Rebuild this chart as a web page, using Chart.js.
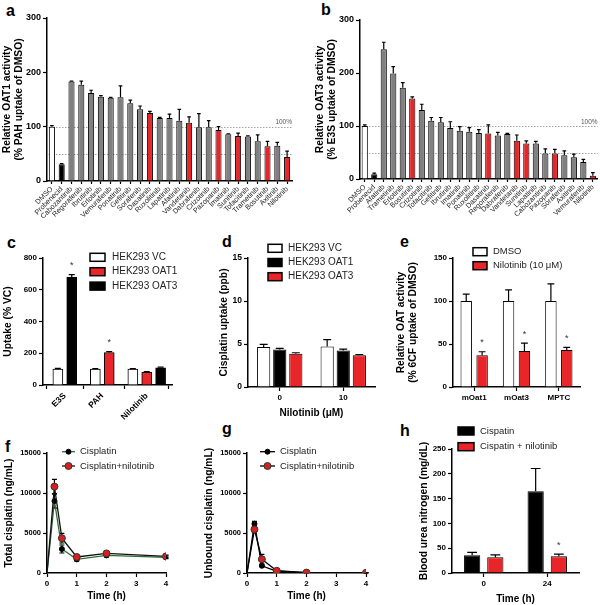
<!DOCTYPE html>
<html><head><meta charset="utf-8">
<script src="https://cdn.jsdelivr.net/npm/chart.js@4/dist/chart.umd.min.js"></script>
<style>
html,body{margin:0;padding:0;background:#fff;}
#wrap{position:relative;width:600px;height:605px;overflow:hidden;font-family:"Liberation Sans",Arial,sans-serif;background:#fff;}
#wrap canvas{position:absolute;}
.pl{position:absolute;font-weight:bold;font-size:16px;line-height:16px;color:#000;}
</style></head><body><div id="wrap">
<div class="pl" style="left:6px;top:3px">a</div>
<div class="pl" style="left:321px;top:2px">b</div>
<div class="pl" style="left:7px;top:235px">c</div>
<div class="pl" style="left:222px;top:234px">d</div>
<div class="pl" style="left:400px;top:234px">e</div>
<div class="pl" style="left:5px;top:439px">f</div>
<div class="pl" style="left:222px;top:421px">g</div>
<div class="pl" style="left:400px;top:423px">h</div>
</div>
<script>
// ---------------- DATA ----------------
const aLabels = ['DMSO','Probenecid','Cabozantinib','Regorafenib','Ibrutinib','Erlotinib','Vemurafenib','Ponatinib','Gefitinib','Sorafenib','Dasatinib','Ruxolitinib','Lapatinib','Afatinib','Vandetanib','Dabrafenib','Crizotinib','Pazopanib','Imatinib','Sunitinib','Tofacitinib','Trametinib','Bosutinib','Axitinib','Nilotinib'];
const aValues = [100,31,183,177,162,155,153,154,143,132,125,116,116,111,107,99,99,94,86,83,82,73,64,65,44];
const aErrors = [2,1,1,7,5,2,1,21,6,6,3,1,7,21,11,25,12,6,1,5,1,12,9,6,11];

const bLabels = ['DMSO','Probenecid','Afatinib','Trametinib','Erlotinib','Bosutinib','Crizotinib','Tofacitinib','Gefitinib','Ibrutinib','Imatinib','Ponatinib','Ruxolitinib','Dasatinib','Regorafenib','Dabrafenib','Vandetanib','Sunitinib','Lapatinib','Cabozantinib','Pazopanib','Sorafenib','Axitinib','Vemurafenib','Nilotinib'];
const bValues = [100,9,245,199,172,152,130,110,107,96,91,89,87,86,82,85,72,67,67,48,48,45,41,32,6];
const bErrors = [2,2,13,13,10,3,11,6,9,12,8,8,6,16,6,1,11,5,4,9,8,8,6,5,6];

const highlightedDrugs = ['Dasatinib','Vandetanib','Pazopanib','Sunitinib','Bosutinib','Nilotinib'];

const cGroups = ['E3S','PAH','Nilotinib'];
const cVC = [100,100,100];
const cVCErr = [5,3,3];
const cOAT1 = [null,205,80];
const cOAT1Err = [null,5,4];
const cOAT3 = [680,null,108];
const cOAT3Err = [15,null,4];
const cOAT1Sig = [false,true,false];
const cOAT3Sig = [true,false,false];

const dGroups = ['0','10'];
const dVC = [4.65,4.7];
const dVCErr = [0.3,0.8];
const dOAT1 = [4.35,4.25];
const dOAT1Err = [0.15,0.15];
const dOAT3 = [3.88,3.68];
const dOAT3Err = [0.1,0.1];

const eGroups = ['mOat1','mOat3','MPTC'];
const eDMSO = [100,100,100];
const eDMSOErr = [8,13,20];
const eNil = [37,42,43];
const eNilErr = [4,9,3];
const eNilSig = [true,true,true];

const fTime = [0,0.25,0.5,1,2,4];
const fCis = [0,9000,3000,1700,2200,1950];
const fCisErr = [0,900,500,200,200,150];
const fCisNil = [0,10800,4350,2000,2450,2080];
const fCisNilErr = [0,900,600,200,200,150];

const gTime = [0,0.25,0.5,1,2,4];
const gCis = [0,6150,900,220,50,30];
const gCisErr = [0,300,100,50,10,10];
const gCisNil = [0,5450,1720,280,50,30];
const gCisNilErr = [0,400,600,50,10,10];

const hGroups = ['0','24'];
const hCis = [35.6,164.7];
const hCisErr = [6,46];
const hCisNil = [31.6,34];
const hCisNilErr = [5,4];
const hCisNilSig = [false,true];

// ---------------- STYLE / PLUGINS ----------------
const FONT = "'Liberation Sans', Arial, Helvetica, sans-serif";
const BLACK = '#000', RED = '#e8262a', GREY = '#808080', WHITE = '#ffffff';
const TITLE_SIZE = 10.3;
Chart.defaults.font.family = FONT;
Chart.defaults.color = BLACK;
Chart.defaults.animation = false;
Chart.defaults.plugins.legend.display = false;
Chart.defaults.plugins.tooltip.enabled = false;

function valOf(raw){ return (raw && typeof raw === 'object') ? raw.y : raw; }

function drawErr(chart, behind){
  const ctx = chart.ctx;
  chart.data.datasets.forEach((ds,i)=>{
    if(!ds.errors || !!ds.errBoth !== behind) return;
    const meta = chart.getDatasetMeta(i);
    const ys = chart.scales[meta.yAxisID];
    ctx.save();
    ctx.strokeStyle = ds.errColor || BLACK;
    ctx.lineWidth = ds.errWidth || 1.2;
    meta.data.forEach((el,j)=>{
      const v = valOf(ds.data[j]); const e = ds.errors[j];
      if(v==null || !e) return;
      const x = el.x;
      const yT = ys.getPixelForValue(v+e);
      const y0 = ys.getPixelForValue(v);
      const half = ds.errCap != null ? ds.errCap : (el.width ? el.width*0.3 : 2.5);
      ctx.beginPath();
      if(ds.errBoth){
        const yB = ys.getPixelForValue(v-e);
        ctx.moveTo(x,yB); ctx.lineTo(x,yT);
        ctx.moveTo(x-half,yB); ctx.lineTo(x+half,yB);
      } else {
        ctx.moveTo(x,y0); ctx.lineTo(x,yT);
      }
      ctx.moveTo(x-half,yT); ctx.lineTo(x+half,yT);
      ctx.stroke();
      if(ds.stars && ds.stars[j]){
        ctx.fillStyle = '#333';
        ctx.font = '9px ' + FONT;
        ctx.textAlign = 'center'; ctx.textBaseline = 'middle';
        ctx.fillText('*', x, yT - 9);
      }
    });
    ctx.restore();
  });
}
const errPlugin = {
  id:'errbars',
  beforeDatasetsDraw(chart){ drawErr(chart, true); },
  afterDatasetsDraw(chart){ drawErr(chart, false); }
};

const refPlugin = {
  id:'refLines',
  beforeDatasetsDraw(chart, args, o){
    if(!o || !o.values) return;
    const ctx = chart.ctx, ys = chart.scales.y, ca = chart.chartArea;
    ctx.save();
    ctx.strokeStyle = '#8a8a8a'; ctx.lineWidth = 0.8; ctx.setLineDash([1.5,1.5]);
    o.values.forEach(v=>{
      const y = Math.round(ys.getPixelForValue(v)) + 0.5;
      ctx.beginPath(); ctx.moveTo(ca.left, y); ctx.lineTo(ca.right, y); ctx.stroke();
    });
    ctx.setLineDash([]);
    if(o.text){
      ctx.fillStyle = '#555'; ctx.font = '6.5px ' + FONT;
      ctx.textAlign = 'right'; ctx.textBaseline = 'alphabetic';
      ctx.fillText(o.text, ca.right, ys.getPixelForValue(o.values[0]) - 2.5);
    }
    ctx.restore();
  }
};

const legendPlugin = {
  id:'boxLegend',
  afterDraw(chart, args, o){
    if(!o || o.x == null) return;
    const ctx = chart.ctx;
    ctx.save();
    chart.data.datasets.forEach((ds,i)=>{
      const cy = o.y + i*o.dy;
      if(o.kind === 'line'){
        ctx.strokeStyle = ds.borderColor; ctx.lineWidth = ds.borderWidth || 1.5;
        ctx.beginPath(); ctx.moveTo(o.x, cy); ctx.lineTo(o.x+o.boxW, cy); ctx.stroke();
        ctx.beginPath(); ctx.arc(o.x+o.boxW/2, cy, ds.legendRadius, 0, Math.PI*2);
        ctx.fillStyle = ds.legendFill; ctx.fill();
        ctx.lineWidth = 1; ctx.strokeStyle = ds.legendStroke; ctx.stroke();
      } else {
        ctx.fillStyle = ds.legendColor;
        ctx.fillRect(o.x, cy-o.boxH/2, o.boxW, o.boxH);
        ctx.lineWidth = 1.5; ctx.strokeStyle = BLACK;
        ctx.strokeRect(o.x, cy-o.boxH/2, o.boxW, o.boxH);
      }
      ctx.fillStyle = '#222'; ctx.font = o.size + 'px ' + FONT;
      ctx.textAlign = 'left'; ctx.textBaseline = 'middle';
      ctx.fillText(ds.label, o.textX, cy);
    });
    ctx.restore();
  }
};
Chart.register(errPlugin, refPlugin, legendPlugin);

const wrap = document.getElementById('wrap');
function mk(left, top, w, h){
  const c = document.createElement('canvas');
  c.width = w; c.height = h;
  c.style.left = left+'px'; c.style.top = top+'px';
  c.style.width = w+'px'; c.style.height = h+'px';
  wrap.appendChild(c); return c;
}

function yAx(o){ return {
  type:'linear', position:'left', min:o.min, max:o.max,
  ticks:{stepSize:o.step, font:{size:o.ts||8, weight:'bold'}, color:BLACK, padding:2, callback:(v)=>String(v)},
  grid:{display:true, drawOnChartArea:false, drawTicks:true, tickLength:4, tickWidth:1.2, color:BLACK},
  border:{display:true, color:BLACK, width:1.5},
  title:{display:true, text:o.title, color:BLACK, font:{size:TITLE_SIZE, weight:'bold', lineHeight:'12px'}, padding:{top:o.tp, bottom:0}},
  afterFit:(s)=>{ s.width = o.w; }
};}

function xCat(o){ return {
  type:'category', offset:true,
  ticks:{font:{size:o.ts||8, weight:o.tw||'bold'}, color:o.tc||BLACK, padding:(o.tpad!=null?o.tpad:2), autoSkip:false, minRotation:o.rot||0, maxRotation:o.rot||0},
  grid:{display:true, drawOnChartArea:false, drawTicks:true, tickLength:o.tl||4, tickWidth:1.2, offset:false, color:BLACK},
  border:{display:true, color:BLACK, width:1.5},
  title: o.title ? {display:true, text:o.title, color:BLACK, font:{size:10, weight:'bold', lineHeight:'11px'}, padding:{top:0, bottom:o.tb}} : {display:false},
  afterFit:(s)=>{ s.height = o.h; }
};}

function xLin(o){ return {
  type:'linear', min:o.min, max:o.max, offset:false,
  ticks:{stepSize:1, font:{size:8, weight:'bold'}, color:BLACK, padding:2, callback:(v)=>String(v)},
  grid:{display:true, drawOnChartArea:false, drawTicks:true, tickLength:4, tickWidth:1.2, color:BLACK},
  border:{display:true, color:BLACK, width:1.5},
  title:{display:true, text:o.title, color:BLACK, font:{size:10, weight:'bold', lineHeight:'11px'}, padding:{top:0, bottom:o.tb}},
  afterFit:(s)=>{ s.height = o.h; }
};}

function drugColor(n){
  if(n==='DMSO') return WHITE;
  if(n==='Probenecid') return BLACK;
  return highlightedDrugs.includes(n) ? RED : GREY;
}
const base = {responsive:false, maintainAspectRatio:false, devicePixelRatio:1};

// ---------------- a ----------------
new Chart(mk(0,0,300,230), {type:'bar',
  data:{labels:aLabels, datasets:[{data:aValues, errors:aErrors, backgroundColor:aLabels.map(drugColor), borderColor:BLACK, borderWidth:1, barPercentage:0.62, categoryPercentage:1}]},
  options:{...base, layout:{padding:{top:18,right:8,left:0,bottom:0}},
    scales:{x:xCat({h:49, ts:7.2, tw:'normal', tc:'#222', rot:45, tl:3, tpad:1}),
            y:yAx({min:0,max:300,step:100,title:['Relative OAT1 activity','(% PAH uptake of DMSO)'], w:47, tp:1, ts:9})},
    plugins:{refLines:{values:[100,50], text:'100%'}}}});

// ---------------- b ----------------
new Chart(mk(300,0,300,230), {type:'bar',
  data:{labels:bLabels, datasets:[{data:bValues, errors:bErrors, backgroundColor:bLabels.map(drugColor), borderColor:BLACK, borderWidth:1, barPercentage:0.65, categoryPercentage:1}]},
  options:{...base, layout:{padding:{top:20,right:2,left:0,bottom:0}},
    scales:{x:xCat({h:51, ts:7.2, tw:'normal', tc:'#222', rot:45, tl:3, tpad:1}),
            y:yAx({min:0,max:300,step:100,title:['Relative OAT3 activity','(% E3S uptake of DMSO)'], w:60, tp:14.5, ts:9})},
    plugins:{refLines:{values:[100,50], text:'100%'}}}});

// ---------------- c ----------------
const cSeries = [
  {label:'HEK293 VC', vals:cVC, err:cVCErr, sig:[false,false,false], color:WHITE},
  {label:'HEK293 OAT1', vals:cOAT1, err:cOAT1Err, sig:cOAT1Sig, color:RED},
  {label:'HEK293 OAT3', vals:cOAT3, err:cOAT3Err, sig:cOAT3Sig, color:BLACK}
];
const cGap = 0.7;
const cSlot = cGroups.map(()=>[]);
const cTickX = [];
let cp = 0;
cGroups.forEach((g,gi)=>{
  const start = cp;
  cSeries.forEach((s,si)=>{ if(s.vals[gi]!=null){ cSlot[gi][si] = cp; cp += 1; } });
  cTickX.push((start + cp - 1)/2);
  cp += cGap;
});
const cDatasets = cSeries.map((s,si)=>{
  const pts = [], errs = [], stars = [];
  cGroups.forEach((g,gi)=>{ if(s.vals[gi]!=null){ pts.push({x:cSlot[gi][si], y:s.vals[gi]}); errs.push(s.err[gi]); stars.push(s.sig[gi]); } });
  return {label:s.label, data:pts, errors:errs, stars:stars, backgroundColor:s.color, legendColor:s.color, borderColor:BLACK, borderWidth:1, barThickness:10, grouped:false, errCap:3};
});
new Chart(mk(0,230,200,190), {type:'bar',
  data:{datasets:cDatasets},
  options:{...base, layout:{padding:{top:28,right:28,left:0,bottom:0}},
    scales:{
      x:{type:'linear', min:-1.07, max:cp - cGap - 1 + 0.82, offset:false,
         afterBuildTicks:(s)=>{ s.ticks = cTickX.map(v=>({value:v})); },
         ticks:{callback:(v,i)=>cGroups[i], autoSkip:false, minRotation:45, maxRotation:45, font:{size:8.5, weight:'bold'}, color:BLACK, padding:2},
         grid:{display:true, drawOnChartArea:false, drawTicks:true, tickLength:4, tickWidth:1.2, color:BLACK},
         border:{display:true, color:BLACK, width:1.5},
         afterFit:(s)=>{ s.height = 35; }},
      y:yAx({min:0,max:800,step:200,title:'Uptake (% VC)', w:43, tp:2, ts:8})},
    plugins:{boxLegend:{x:90, y:27.3, dy:14.4, boxW:15, boxH:8, textX:112, size:10}}}});

// ---------------- d ----------------
new Chart(mk(200,230,200,190), {type:'bar',
  data:{labels:dGroups, datasets:[
    {label:'HEK293 VC', data:dVC, errors:dVCErr, backgroundColor:WHITE, legendColor:WHITE, borderColor:BLACK, borderWidth:1, barPercentage:0.82, categoryPercentage:0.76},
    {label:'HEK293 OAT1', data:dOAT1, errors:dOAT1Err, backgroundColor:BLACK, legendColor:BLACK, borderColor:BLACK, borderWidth:1, barPercentage:0.82, categoryPercentage:0.76},
    {label:'HEK293 OAT3', data:dOAT3, errors:dOAT3Err, backgroundColor:RED, legendColor:RED, borderColor:BLACK, borderWidth:1, barPercentage:0.82, categoryPercentage:0.76}]},
  options:{...base, layout:{padding:{top:28,right:25,left:0,bottom:0}},
    scales:{x:xCat({h:33, title:'Nilotinib (\u03bcM)', tb:1.5}),
            y:yAx({min:0,max:15,step:5,title:'Cisplatin uptake (ppb)', w:48, tp:18, ts:8.5})},
    plugins:{boxLegend:{x:68, y:18.3, dy:14.2, boxW:14, boxH:8, textX:88, size:10}}}});

// ---------------- e ----------------
new Chart(mk(390,230,210,190), {type:'bar',
  data:{labels:eGroups, datasets:[
    {label:'DMSO', data:eDMSO, errors:eDMSOErr, backgroundColor:WHITE, legendColor:WHITE, borderColor:BLACK, borderWidth:1, barPercentage:0.72, categoryPercentage:0.75},
    {label:'Nilotinib (10 \u03bcM)', data:eNil, errors:eNilErr, stars:eNilSig, backgroundColor:RED, legendColor:RED, borderColor:BLACK, borderWidth:1, barPercentage:0.72, categoryPercentage:0.75}]},
  options:{...base, layout:{padding:{top:28,right:20,left:0,bottom:0}},
    scales:{x:xCat({h:33}),
            y:yAx({min:0,max:150,step:50,title:['Relative OAT activity','(% 6CF uptake of DMSO)'], w:63, tp:5, ts:8})},
    plugins:{boxLegend:{x:83, y:21.7, dy:14, boxW:14, boxH:8, textX:103, size:9.5}}}});

// ---------------- f ----------------
function pts(t, v){ return t.map((x,i)=>({x:x, y:v[i]})); }
function lineDs(label, t, v, err, lineColor, fill, stroke, r, order){
  return {label:label, data:pts(t,v), errors:err, errBoth:true, errCap:2.5, order:order,
    borderColor:lineColor, borderWidth:1.3, tension:0, fill:false,
    pointRadius:t.map(x=>x===0?0:r), pointBackgroundColor:fill, pointBorderColor:stroke, pointBorderWidth:1,
    legendRadius:r, legendFill:fill, legendStroke:stroke};
}
new Chart(mk(0,420,200,185), {type:'line',
  data:{datasets:[
    lineDs('Cisplatin', fTime, fCis, fCisErr, '#2f6b33', BLACK, BLACK, 2.5, 1),
    lineDs('Cisplatin+nilotinib', fTime, fCisNil, fCisNilErr, '#111', '#d62020', '#333', 3.5, 0)]},
  options:{...base, layout:{padding:{top:33,right:34,left:0,bottom:0}},
    scales:{x:xLin({min:0,max:4,title:'Time (h)', tb:3.5, h:32}),
            y:yAx({min:0,max:15000,step:5000,title:'Total cisplatin (ng/mL)', w:47, tp:3, ts:7.5})},
    plugins:{boxLegend:{kind:'line', x:62, y:31.7, dy:14.3, boxW:13, textX:80, size:9.5}}}});

// ---------------- g ----------------
new Chart(mk(200,420,200,185), {type:'line',
  data:{datasets:[
    lineDs('Cisplatin', gTime, gCis, gCisErr, '#000', BLACK, BLACK, 2.5, 1),
    lineDs('Cisplatin+nilotinib', gTime, gCisNil, gCisNilErr, '#000', '#d62020', '#333', 3.5, 0)]},
  options:{...base, layout:{padding:{top:33,right:34,left:0,bottom:0}},
    scales:{x:xLin({min:0,max:4,title:'Time (h)', tb:3.5, h:32}),
            y:yAx({min:0,max:15000,step:5000,title:'Unbound cisplatin (ng/mL)', w:47, tp:3, ts:7.5})},
    plugins:{boxLegend:{kind:'line', x:60, y:31.7, dy:14.3, boxW:15, textX:80, size:9.5}}}});

// ---------------- h ----------------
new Chart(mk(400,420,200,185), {type:'bar',
  data:{labels:hGroups, datasets:[
    {label:'Cispatin', data:hCis, errors:hCisErr, backgroundColor:BLACK, legendColor:BLACK, borderColor:BLACK, borderWidth:1, barPercentage:0.7, categoryPercentage:0.73},
    {label:'Cispatin + nilotinib', data:hCisNil, errors:hCisNilErr, stars:hCisNilSig, backgroundColor:RED, legendColor:RED, borderColor:BLACK, borderWidth:1, barPercentage:0.7, categoryPercentage:0.73}]},
  options:{...base, layout:{padding:{top:29,right:21,left:0,bottom:0}},
    scales:{x:xCat({h:32, title:'Time (h)', tb:0}),
            y:yAx({min:0,max:250,step:50,title:'Blood urea nitrogen (mg/dL)', w:52, tp:18, ts:8})},
    plugins:{boxLegend:{x:58, y:11, dy:15.7, boxW:16, boxH:8, textX:80, size:9.5}}}});
</script>
</body></html>
